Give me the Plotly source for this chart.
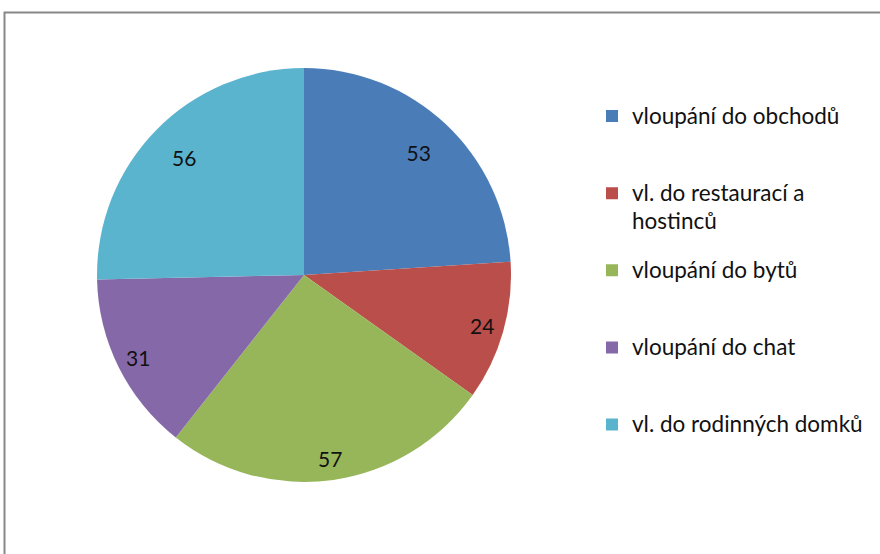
import plotly.graph_objects as go

# Data
categories = [
    "vloupání do obchodů",
    "vl. do restaurací a<br>hostinců",
    "vloupání do bytů",
    "vloupání do chat",
    "vl. do rodinných domků",
]
values = [53, 24, 57, 31, 56]
colors = ["#4A7DB8", "#BA4E4A", "#97B65A", "#8568A7", "#5AB4CE"]
# which text ring carries each value label (style only)
label_ring = ["inner", "outer", "outer", "outer", "inner"]

W, H = 880, 554
cx, cy, r = 304, 275, 207  # pie centre / radius in px (from top-left)

LEG_SIZE = 22.5


def big(s):
    parts = s.split("<br>")
    out = ["<span style='font-size:%spx'>%s</span>" % (LEG_SIZE, parts[0])]
    for p in parts[1:]:
        # small downward shift so wrapped lines breathe like the original
        out.append("<sub><span style='font-size:%spx'>%s</span></sub>" % (LEG_SIZE, p))
    return "<br>".join(out)


# pad legend labels so that each entry occupies three lines
legend_labels = []
for c in categories:
    if "<br>" in c:
        legend_labels.append("\u00a0<br>" + big(c))
    else:
        legend_labels.append("\u00a0<br>" + big(c) + "<br>\u00a0")

domain = dict(
    x=[(cx - r) / W, (cx + r) / W],
    y=[(H - cy - r) / H, (H - cy + r) / H],
)

fig = go.Figure()
# full pie (slices + legend)
fig.add_trace(
    go.Pie(
        labels=legend_labels,
        values=values,
        sort=False,
        direction="clockwise",
        rotation=0,
        marker=dict(colors=colors, line=dict(width=0)),
        textinfo="none",
        hoverinfo="skip",
        domain=domain,
        showlegend=True,
    )
)

# transparent rings on top carrying the value labels further out, like
# Excel's best fit
for hole, ring in ((0.62, "inner"), (0.79, "outer")):
    fig.add_trace(
        go.Pie(
            labels=legend_labels,
            values=values,
            sort=False,
            direction="clockwise",
            rotation=0,
            hole=hole,
            marker=dict(colors=["rgba(0,0,0,0)"] * len(values), line=dict(width=0)),
            textinfo="value",
            textposition=["inside" if lr == ring else "none" for lr in label_ring],
            insidetextorientation="horizontal",
            textfont=dict(family="Lato", size=21, color="#111111"),
            hoverinfo="skip",
            domain=domain,
            showlegend=False,
        )
    )

fig.update_layout(
    width=W,
    height=H,
    margin=dict(l=0, r=0, t=0, b=0),
    paper_bgcolor="white",
    plot_bgcolor="white",
    showlegend=True,
    legend=dict(
        x=592 / W,
        y=0.869,
        xanchor="left",
        yanchor="top",
        font=dict(family="Lato", size=19, color="#111111"),
        bgcolor="rgba(0,0,0,0)",
        traceorder="normal",
    ),
    shapes=[
        dict(
            type="rect",
            xref="paper",
            yref="paper",
            x0=4.5 / W,
            x1=1.2,
            y0=-0.2,
            y1=1 - 12.5 / H,
            line=dict(color="#878787", width=2),
            fillcolor="rgba(0,0,0,0)",
            layer="above",
        )
    ],
)

fig.write_html(
    "out.html",
    config={"displayModeBar": False},
    post_script="document.body.style.margin='0';document.body.style.overflow='hidden';",
)
